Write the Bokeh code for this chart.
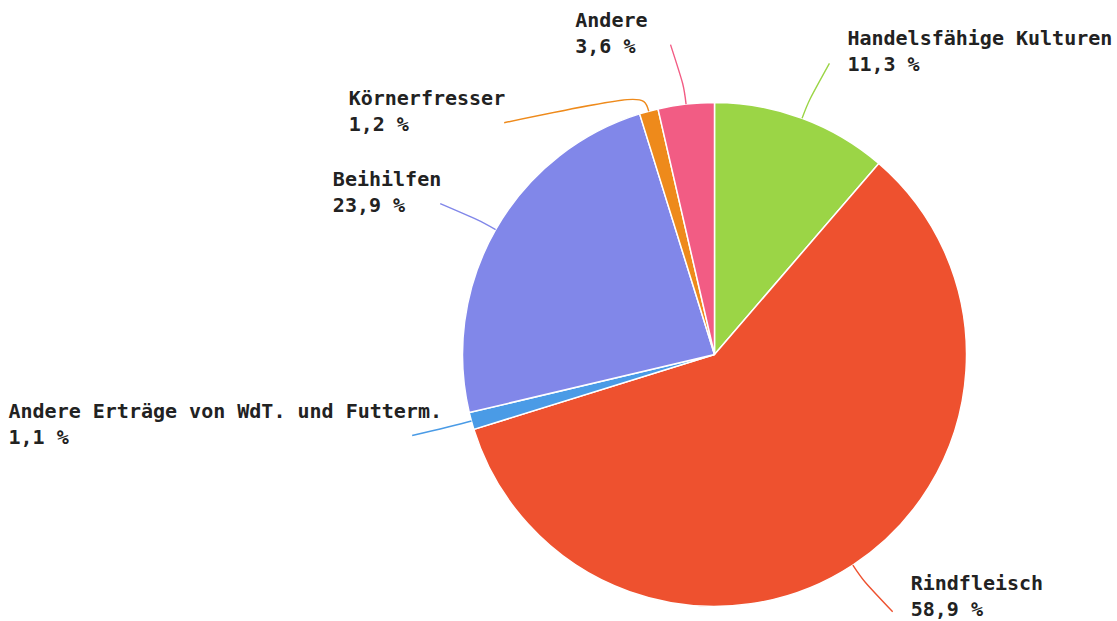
import math
from bokeh.plotting import figure
from bokeh.models import Range1d
from bokeh.core.properties import value
from bokeh.embed import file_html
from bokeh.resources import INLINE

# ---- data ----
categories = ["Handelsfähige Kulturen", "Rindfleisch", "Andere Erträge von WdT. und Futterm.",
              "Beihilfen", "Körnerfresser", "Andere"]
shares = [11.3, 58.9, 1.1, 23.9, 1.2, 3.6]
colors = ["#9bd546", "#ee512f", "#4a9be6", "#8187e9", "#ee8a1b", "#f25c84"]

# ---- layout ----
W, H = 1117, 621
CX, CY_SCR = 714, 354          # pie centre (screen px)
R = 252                        # pie radius
R_BEND = 270                   # leader bend radius
R_END = 313                    # leader end radius
label_angle_shift = [1.2, -1.4, 0.3, -0.9, -27.1, -1.6]   # degrees
label_x_nudge = [0, 0, 0, 0, 0, -24]
label_y_nudge = [0, 4, 0, 0, 0, 0]   # data-space (up = positive)
FS = 20
CHAR_W = 0.602 * FS
LINE_GAP = 26

def sy(y_screen):
    return H - y_screen

p = figure(width=W, height=H, output_backend="svg", toolbar_location=None,
           x_range=Range1d(0, W), y_range=Range1d(0, H), min_border=0)
p.axis.visible = False
p.grid.visible = False
p.outline_line_color = None
p.background_fill_color = "white"

cx, cy = CX, sy(CY_SCR)
total = sum(shares)
cum = 0.0
starts, ends, mids = [], [], []
for v in shares:
    a0 = cum / total * 2 * math.pi
    cum += v
    a1 = cum / total * 2 * math.pi
    starts.append(math.pi / 2 - a0)
    ends.append(math.pi / 2 - a1)
    mids.append((a0 + a1) / 2)

p.wedge(x=[cx] * len(shares), y=[cy] * len(shares), radius=R,
        start_angle=starts, end_angle=ends, direction="clock",
        fill_color=colors, line_color="white", line_width=1.5)

for i, (name, v, col, m) in enumerate(zip(categories, shares, colors, mids)):
    sx0 = cx + R * math.sin(m)
    sy0 = cy + R * math.cos(m)
    bx = cx + R_BEND * math.sin(m)
    by = cy + R_BEND * math.cos(m)
    ea = m + math.radians(label_angle_shift[i])
    ex = cx + R_END * math.sin(ea)
    ey = cy + R_END * math.cos(ea)
    p.bezier(x0=[sx0], y0=[sy0], x1=[ex], y1=[ey], cx0=[bx], cy0=[by], cx1=[bx], cy1=[by],
             line_color=col, line_width=1.4)
    pct = f"{v:.1f}".replace(".", ",") + " %"
    width = max(len(name), len(pct)) * CHAR_W
    if math.sin(ea) >= 0:
        tx = ex + 18
    else:
        tx = ex + 1 + label_x_nudge[i] - width
        if tx < 8:
            tx = 8
    ty = ey + label_y_nudge[i]
    for txt, dy in ((name, LINE_GAP - 1), (pct, -1)):
        p.text(x=[tx], y=[ty + dy], text=[txt], text_align="left", text_baseline="middle",
               text_font=value("DejaVu Sans Mono"), text_font_style="bold",
               text_font_size=f"{FS}px", text_color="#222222")

open("out.html", "w").write(file_html(p, INLINE))
